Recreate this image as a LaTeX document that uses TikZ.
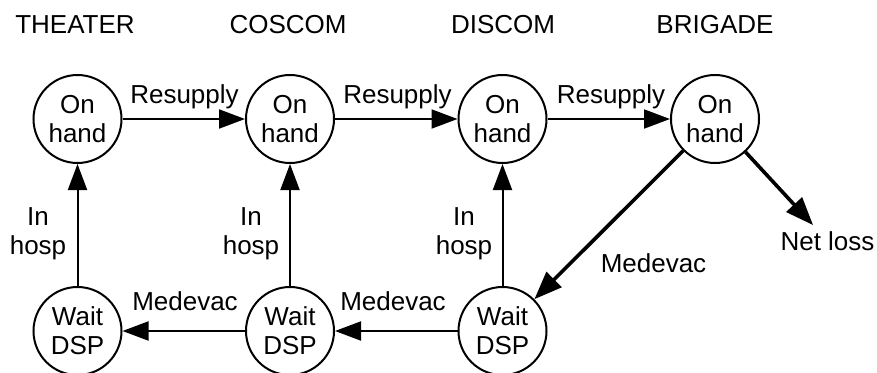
\documentclass[tikz,border=0pt]{standalone}
\usepackage{fontspec}
\setmainfont{Liberation Sans}
\usetikzlibrary{arrows.meta}
\begin{document}
\begin{tikzpicture}[x=1pt,y=-1pt,
  every node/.style={font=\fontsize{26pt}{29pt}\selectfont},
  state/.style={circle,draw,line width=2pt,minimum size=88pt,inner sep=0pt,align=center},
  lbl/.style={inner sep=0pt,anchor=base},
  side/.style={inner sep=0pt,align=center},
  flow/.style={line width=2pt,-{Triangle[length=26pt,width=19pt]}},
  bigflow/.style={line width=3.6pt,-{Triangle[length=28pt,width=21pt]}},
]
\useasboundingbox (0,0) rectangle (877,372);
% headers
\node[lbl] (h1) at (75,33) {THEATER};
\node[lbl] (h2) at (288,33) {COSCOM};
\node[lbl] (h3) at (503,33) {DISCOM};
\node[lbl] (h4) at (715,33) {BRIGADE};
% states
\node[state] (A) at (77.5,119) {On\\hand};
\node[state] (B) at (290,119) {On\\hand};
\node[state] (C) at (502.5,119) {On\\hand};
\node[state] (D) at (715,119) {On\\hand};
\node[state] (E) at (77.5,331) {Wait\\DSP};
\node[state] (F) at (290,331) {Wait\\DSP};
\node[state] (G) at (502.5,331) {Wait\\DSP};
\node[lbl] (nl) at (827.5,250) {Net loss};
% labels
\node[lbl] (r1) at (184.5,103) {Resupply};
\node[lbl] (r2) at (397.5,103) {Resupply};
\node[lbl] (r3) at (611,103) {Resupply};
\node[lbl] (m1) at (185,310) {Medevac};
\node[lbl] (m2) at (393,310) {Medevac};
\node[lbl] (m3) at (653.5,272) {Medevac};
\node[side] (i1) at (38,234) {In\\hosp};
\node[side] (i2) at (251,234) {In\\hosp};
\node[side] (i3) at (464,234) {In\\hosp};
% connectors
\draw[flow] (A) -- (B);
\draw[flow] (B) -- (C);
\draw[flow] (C) -- (D);
\draw[flow] (E) -- (A);
\draw[flow] (F) -- (B);
\draw[flow] (G) -- (C);
\draw[flow] (G) -- (F);
\draw[flow] (F) -- (E);
\draw[bigflow] (D) -- (G);
\draw[bigflow,shorten >=8pt] (D) -- (nl);
\end{tikzpicture}
\end{document}
